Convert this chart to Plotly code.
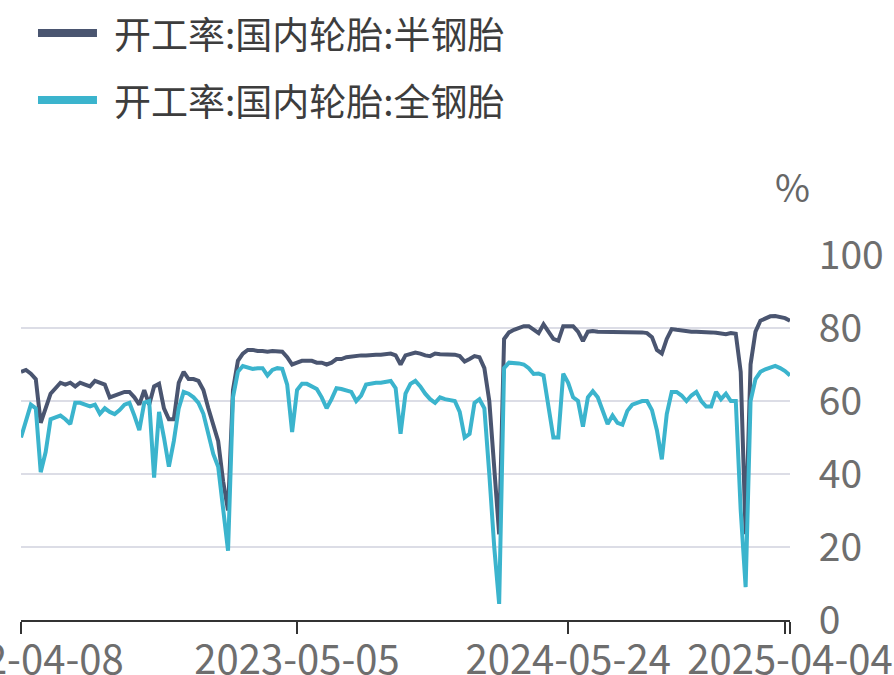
import pandas as pd
import plotly.graph_objects as go

# Weekly dates (Fridays)
dates = pd.date_range("2022-04-08", periods=157, freq="7D")

semi_steel = [
    68, 68.5, 67.5, 66, 54, 58, 62, 63.5, 65, 64.5,
    65, 64, 65, 64.5, 64, 65.5, 65, 64.5, 61, 61.5,
    62, 62.5, 62.5, 61, 59, 63, 59, 64, 64.7, 58,
    55, 55, 65, 68, 66, 66, 65.5, 63, 58, 53.5,
    49, 38, 30, 63, 71, 73, 74, 74, 73.7, 73.7,
    73.5, 73.7, 73.5, 73.5, 72, 70, 70.5, 71, 71, 71,
    70.5, 70.5, 70, 70.5, 71.5, 71.5, 72, 72.2, 72.3, 72.5,
    72.5, 72.7, 72.7, 72.7, 72.8, 73, 72.5, 70, 72.5, 73,
    73.3, 73, 72.5, 72.3, 73, 72.8, 72.8, 72.7, 72.7, 72.3,
    70.8, 71.5, 72.3, 72, 69, 60, 40, 23.5, 77, 78.8,
    79.5, 80, 80.5, 80.5, 79.5, 78.6, 81, 79, 77, 76.5,
    80.5, 80.5, 80.5, 79, 76.4, 79, 79.2, 79, 79, 79,
    79, 79, 79, 79, 78.8, 78.8, 78.8, 78.6, 77.5, 74,
    73, 77, 79.7, 79.5, 79.3, 79.2, 79, 79, 79, 78.8,
    78.8, 78.7, 78.6, 78.3, 78.6, 78.4, 68, 23.5, 70, 79,
    82, 82.7, 83.2, 83.3, 83, 82.7, 82,
]

all_steel = [
    50, 55, 59, 58, 40.5, 46, 55, 55.5, 56, 55,
    53.7, 59.5, 59.5, 59, 58.5, 59, 56.5, 58, 57, 56.4,
    57.5, 59, 59.5, 56, 52, 59.5, 60, 39, 57, 50,
    42, 49, 58, 62.5, 62, 61, 59.5, 56.5, 51, 45.5,
    42, 31, 19, 61, 68, 69.6, 69.2, 68.8, 69, 69,
    67, 68.5, 69, 68.8, 64.5, 51.5, 63, 64.7, 64.7, 64,
    63.3, 61, 58, 60.5, 63.5, 63.3, 63, 62.5, 60, 61.5,
    64.5, 64.8, 65, 65, 65.2, 65.5, 63.5, 51, 62, 64.7,
    65.5, 64, 62, 60.5, 59.5, 61, 60.5, 60.3, 60, 57,
    50, 51, 59.5, 60.5, 58, 40, 20, 4.4, 69, 70.5,
    70.5, 70.3, 70, 69, 67.4, 67.5, 67, 58, 50, 50,
    67.5, 65, 61, 60, 53, 61, 62.7, 61, 57, 53.7,
    56, 54, 53.5, 57.3, 59, 59.5, 60, 60, 57.5, 52,
    44, 56.4, 62.5, 62.5, 61.5, 60, 61.5, 62.5, 60, 58.5,
    58.5, 62.5, 60.5, 62, 60, 60, 30, 9, 60, 66,
    68, 68.7, 69.3, 69.6, 69, 68.2, 67,
]

series_names = ["开工率:国内轮胎:半钢胎", "开工率:国内轮胎:全钢胎"]
series_colors = ["#4a5570", "#3bb4cd"]

tick_vals = ["2022-04-08", "2023-05-05", "2024-05-24", "2025-03-28", "2025-04-04"]
tick_text = ["2022-04-08", "2023-05-05", "2024-05-24", "", "2025-04-04"]
y_ticks = [0, 20, 40, 60, 80, 100]

FONT = "Noto Sans CJK SC"

fig = go.Figure()
for name, vals, col in zip(series_names, [semi_steel, all_steel], series_colors):
    fig.add_trace(go.Scatter(
        x=dates, y=vals, mode="lines", name=name,
        line=dict(color=col, width=4), showlegend=False,
    ))

# Custom legend (long line samples like the reference)
legend_y = [1.608, 1.4247]
for name, col, ly in zip(series_names, series_colors, legend_y):
    fig.add_shape(type="line", xref="paper", yref="paper",
                  x0=0.0221, x1=0.0988, y0=ly, y1=ly,
                  line=dict(color=col, width=8))
    fig.add_annotation(xref="paper", yref="paper", x=0.1183, y=ly,
                       text=name, showarrow=False, xanchor="left",
                       yanchor="middle",
                       font=dict(family=FONT, size=37, color="#3d3d3d"))

fig.add_annotation(xref="paper", yref="paper", x=1.003, y=1.19, text="%",
                   showarrow=False, xanchor="center", yanchor="middle",
                   font=dict(family=FONT, size=38, color="#666666"))

fig.update_layout(
    width=894, height=675,
    margin=dict(l=21, r=104, t=255, b=55, autoexpand=False),
    paper_bgcolor="white", plot_bgcolor="white",
    font=dict(family=FONT, color="#6e6e6e"),
    showlegend=False,
)
fig.update_xaxes(
    type="date", range=["2022-04-08", "2025-04-04"],
    tickmode="array", tickvals=tick_vals, ticktext=tick_text,
    ticks="outside", ticklen=12, tickwidth=2, tickcolor="#333333",
    showline=True, linecolor="#333333", linewidth=2,
    showgrid=False, zeroline=False, automargin=False,
    ticklabeloverflow="allow", ticklabelstandoff=-8,
    tickfont=dict(family=FONT, size=40, color="#6e6e6e"),
)
fig.update_yaxes(
    side="right", range=[0, 100], tickmode="array", tickvals=y_ticks,
    showgrid=True, gridcolor="#dcdde6", gridwidth=2, zeroline=False,
    showline=False, ticks="outside", ticklen=20, tickcolor="rgba(0,0,0,0)",
    automargin=False,
    tickfont=dict(family=FONT, size=39, color="#6e6e6e"),
)

fig.write_html("out.html", config={"displayModeBar": False},
               post_script="document.body.style.margin='0';document.body.style.overflow='hidden';")
